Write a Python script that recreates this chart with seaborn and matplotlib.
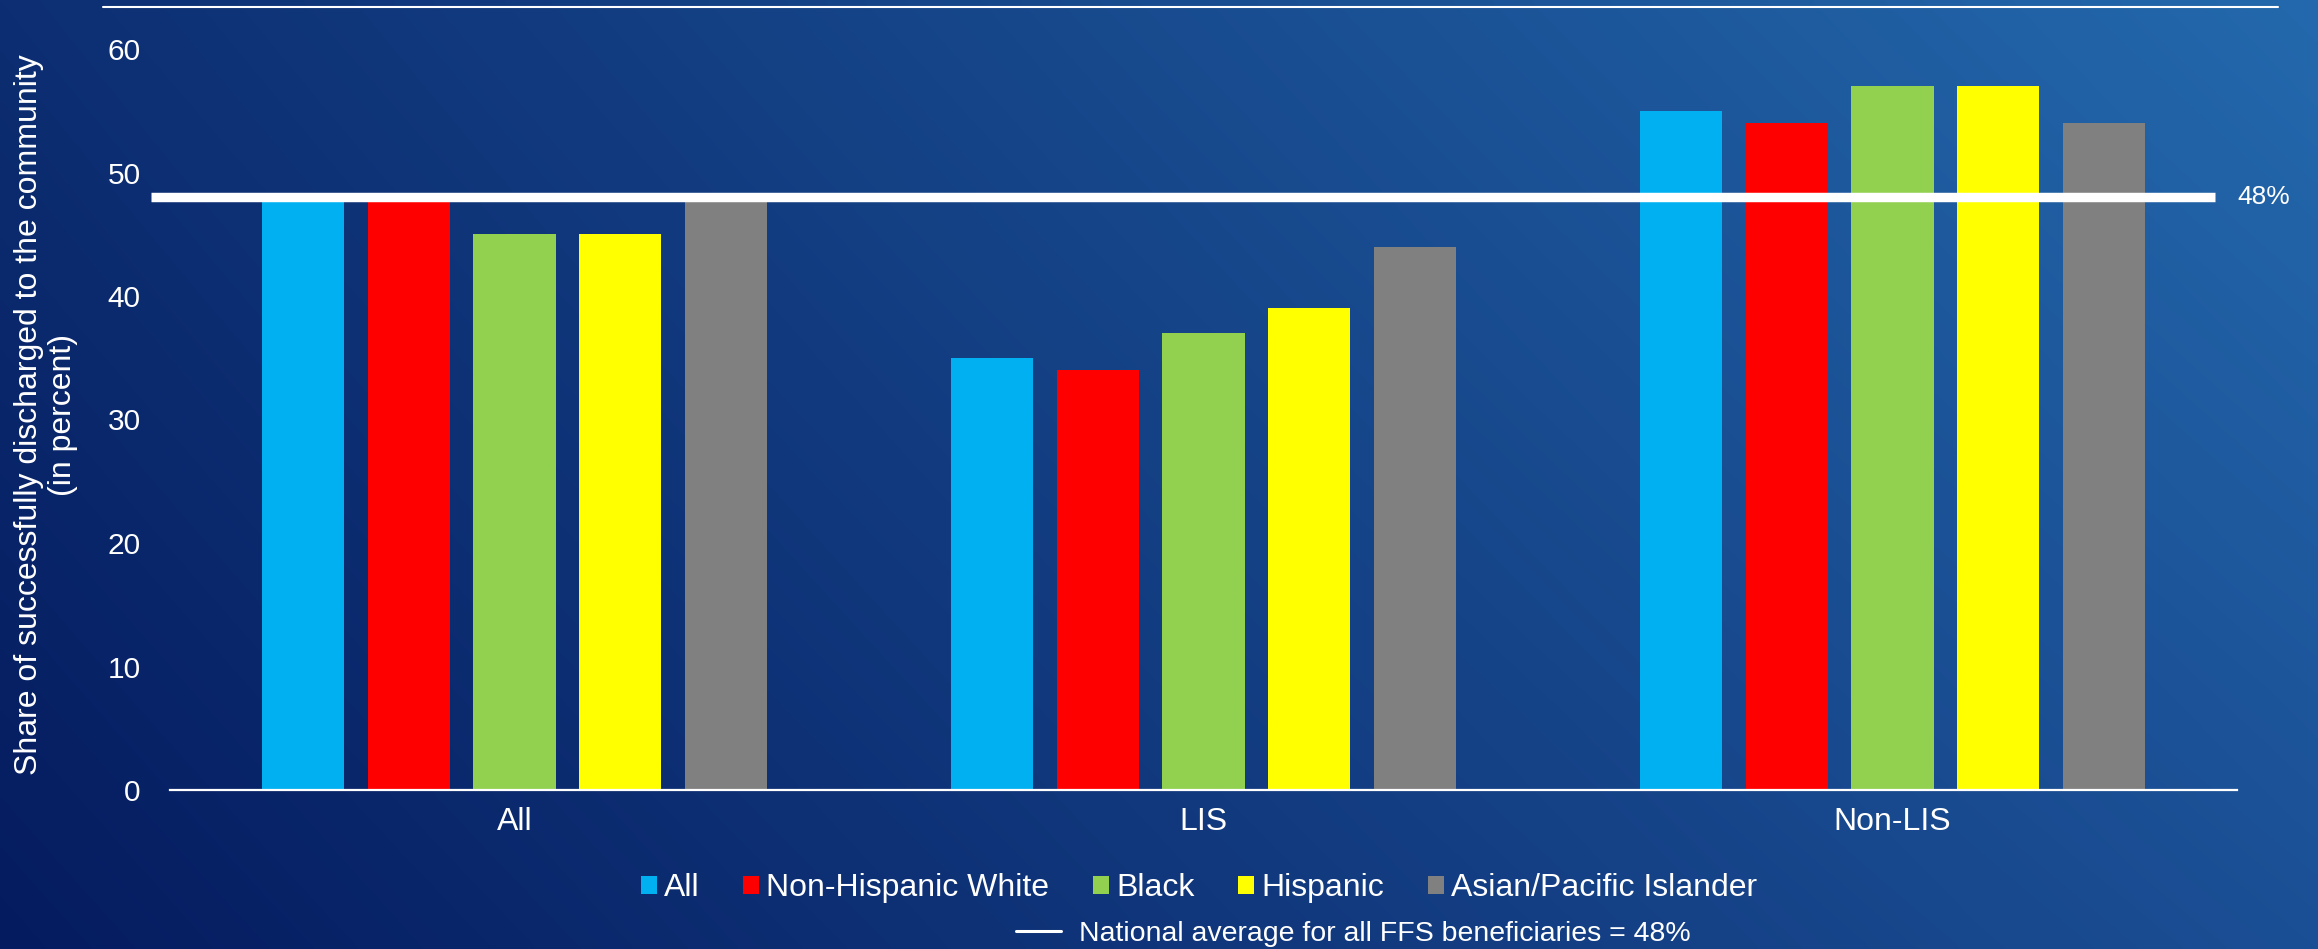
import numpy as np
import pandas as pd
import matplotlib
matplotlib.use("Agg")
import matplotlib.pyplot as plt
import matplotlib.colors as mcolors
import seaborn as sns
from matplotlib.patches import Patch
from matplotlib.lines import Line2D

# ---- data -------------------------------------------------------------
groups = ["All", "LIS", "Non-LIS"]
races = ["All", "Non-Hispanic White", "Black", "Hispanic", "Asian/Pacific Islander"]
share_all = [48, 48, 45, 45, 48]
share_lis = [35, 34, 37, 39, 44]
share_non_lis = [55, 54, 57, 57, 54]
national_average = 48
y_ticks = [0, 10, 20, 30, 40, 50, 60]
race_colors = ["#00B0F0", "#FF0000", "#92D050", "#FFFF00", "#808080"]

df = pd.DataFrame({
    "group": np.repeat(groups, len(races)),
    "race": races * len(groups),
    "share": share_all + share_lis + share_non_lis,
})

# ---- style ------------------------------------------------------------
sns.set_theme(style="white")
plt.rcParams["font.family"] = ["Liberation Sans", "DejaVu Sans"]
WHITE = "white"

W, H = 2318, 949
fig = plt.figure(figsize=(W / 100, H / 100), dpi=100)

# slide-style blue gradient background
bg = fig.add_axes([0, 0, 1, 1], zorder=-10)
gx, gy = np.meshgrid(np.linspace(0, 1, 600), np.linspace(0, 1, 250))
c_bl = np.array(mcolors.to_rgb("#051b5f"))
c_tl = np.array(mcolors.to_rgb("#0d2e72"))
c_br = np.array(mcolors.to_rgb("#1b4f95"))
c_tr = np.array(mcolors.to_rgb("#2469ad"))
grad = (((1 - gx) * (1 - gy))[..., None] * c_bl + ((1 - gx) * gy)[..., None] * c_tl
        + (gx * (1 - gy))[..., None] * c_br + (gx * gy)[..., None] * c_tr)
bg.imshow(grad, origin="lower", aspect="auto", extent=[0, 1, 0, 1], interpolation="bilinear")
bg.axis("off")

# ---- bars ---------------------------------------------------------------
ax = fig.add_axes([170 / W, 1 - 790 / H, (2237 - 170) / W, (790 - 49) / H])
ax.patch.set_alpha(0)
sns.barplot(data=df, x="group", y="share", hue="race", order=groups, hue_order=races,
            palette=race_colors, saturation=1, width=0.767, gap=0.224,
            errorbar=None, legend=False, ax=ax, zorder=2,
            edgecolor="none", linewidth=0)

ax.set_xlim(-0.5, 2.5)
ax.set_ylim(0, 60)
ax.set_yticks(y_ticks)
ax.set_xlabel("")
ax.set_ylabel("")
for side in ["left", "right", "top"]:
    ax.spines[side].set_visible(False)
ax.spines["bottom"].set_color(WHITE)
ax.spines["bottom"].set_linewidth(1.6)
ax.spines["bottom"].set_zorder(4)
ax.tick_params(axis="y", length=0, pad=21, labelsize=21.5, labelcolor=WHITE)
ax.tick_params(axis="x", length=0, pad=12, labelsize=23, labelcolor=WHITE)
ax.grid(False)

# national average reference line and its label
x0 = (151 - 170) / (2237 - 170)
x1 = (2215 - 170) / (2237 - 170)
ax.axhline(national_average, xmin=x0, xmax=x1, color=WHITE, lw=6.8,
           clip_on=False, zorder=3, solid_capstyle="butt")
ax.annotate(f"{national_average}%", xy=(x1, national_average),
            xycoords=("axes fraction", "data"), xytext=(16, 0),
            textcoords="offset points", ha="left", va="center",
            color=WHITE, fontsize=19, annotation_clip=False)

# y-axis title
fig.text(46 / W, 1 - 415 / H,
         "Share of successfully discharged to the community\n(in percent)",
         rotation=90, ha="center", va="center", multialignment="center",
         color=WHITE, fontsize=23, linespacing=1.2)

# thin rule across the top
fig.add_artist(Line2D([103 / W, 2278 / W], [1 - 7 / H, 1 - 7 / H],
                      color=WHITE, lw=1.5))

# ---- legends ----------------------------------------------------------
race_handles = [Patch(facecolor=c, edgecolor="none") for c in race_colors]
leg1 = fig.legend(race_handles, races, loc="center", ncol=5,
                  bbox_to_anchor=(1199 / W, 1 - 888 / H), frameon=False,
                  fontsize=23, labelcolor=WHITE, handlelength=0.5,
                  handleheight=0.5, handletextpad=0.22, columnspacing=1.37,
                  borderpad=0, borderaxespad=0)

avg_handle = [Line2D([0], [0], color=WHITE, lw=2.2)]
leg2 = fig.legend(avg_handle, [f"National average for all FFS beneficiaries = {national_average}%"],
                  loc="center", bbox_to_anchor=(1353 / W, 1 - 934 / H),
                  frameon=False, fontsize=20.5, labelcolor=WHITE,
                  handlelength=1.6, handletextpad=0.6, borderpad=0,
                  borderaxespad=0)

fig.savefig("out.png", dpi=100)
